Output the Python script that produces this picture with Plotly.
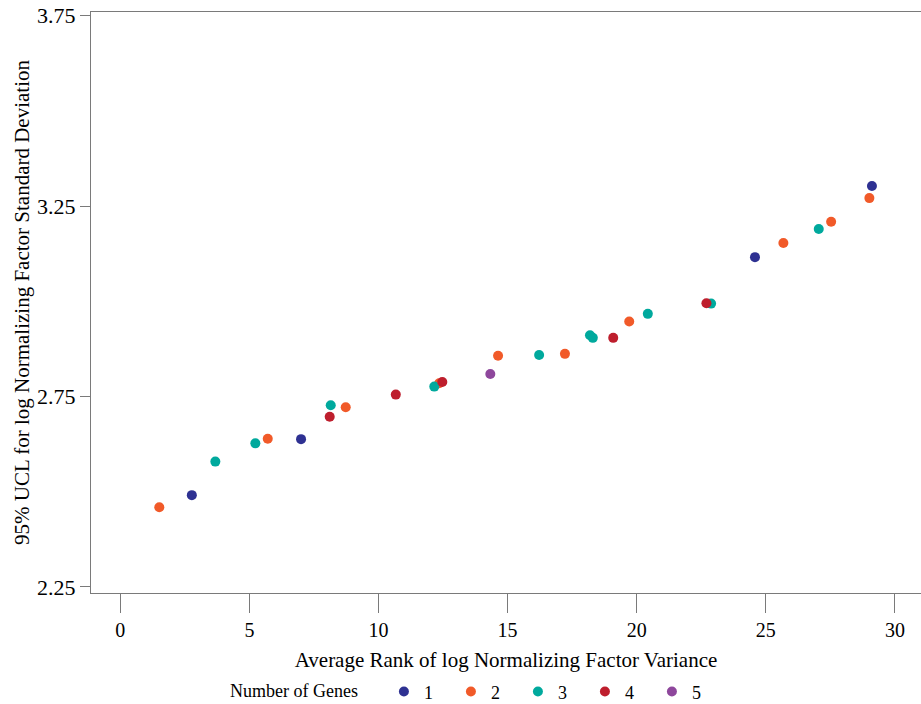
import plotly.graph_objects as go

# ---- data ----
series_names = ["1", "2", "3", "4", "5"]

x_g1 = [2.77, 7.00, 24.58, 29.11]
y_g1 = [2.491, 2.638, 3.116, 3.303]

x_g2 = [1.51, 5.71, 8.73, 12.35, 14.63, 17.22, 19.71, 25.68, 27.53, 29.01]
y_g2 = [2.459, 2.639, 2.722, 2.785, 2.857, 2.862, 2.947, 3.153, 3.209, 3.271]

x_g3 = [3.68, 5.23, 8.15, 12.16, 16.22, 18.19, 18.30, 20.43, 22.88, 27.05]
y_g3 = [2.579, 2.627, 2.727, 2.776, 2.859, 2.911, 2.904, 2.967, 2.994, 3.190]

x_g4 = [8.11, 10.67, 12.47, 19.09, 22.70]
y_g4 = [2.697, 2.755, 2.788, 2.904, 2.995]

x_g5 = [14.33]
y_g5 = [2.809]

x_ticks = [0, 5, 10, 15, 20, 25, 30]
y_ticks = [2.25, 2.75, 3.25, 3.75]
y_tick_labels = ["2.25", "2.75", "3.25", "3.75"]

colors = ["#2e3192", "#f15a29", "#00a99d", "#be1e2d", "#8e479c"]

FONT = "Liberation Serif, Times New Roman, serif"

fig = go.Figure()
for name, xs, ys, c in zip(series_names,
                           [x_g1, x_g2, x_g3, x_g4, x_g5],
                           [y_g1, y_g2, y_g3, y_g4, y_g5],
                           colors):
    fig.add_trace(go.Scatter(
        x=xs, y=ys, mode="markers", name=name,
        marker=dict(color=c, size=10, line=dict(width=0)),
    ))

axis_col = "#7a7a7a"
fig.update_layout(
    width=921, height=704,
    margin=dict(l=91, r=0, t=12, b=111, autoexpand=False),
    paper_bgcolor="white", plot_bgcolor="white",
    font=dict(family=FONT, size=18, color="#000000"),
    showlegend=True,
    legend=dict(
        orientation="h",
        title=dict(text="Number of Genes\u00a0\u00a0\u00a0\u00a0",
                   font=dict(family=FONT, size=18)),
        font=dict(family=FONT, size=18),
        x=0.165, xanchor="left",
        y=-0.17, yanchor="middle",
        itemwidth=30,
        entrywidth=22,
        bgcolor="rgba(0,0,0,0)",
    ),
    xaxis=dict(
        range=[-1.135, 31.01],
        automargin=False,
        tickmode="array", tickvals=x_ticks,
        ticks="outside", ticklen=19, tickcolor=axis_col, tickwidth=1,
        showline=True, linecolor=axis_col, linewidth=1, mirror=True,
        showgrid=False, zeroline=False,
        tickfont=dict(family=FONT, size=20),
        title=dict(text="Average Rank of log Normalizing Factor Variance",
                   font=dict(family=FONT, size=21), standoff=12),
    ),
    yaxis=dict(
        range=[2.234, 3.7597],
        automargin=False,
        tickmode="array", tickvals=y_ticks, ticktext=y_tick_labels,
        ticks="outside", ticklen=10, tickcolor=axis_col, tickwidth=1,
        showline=True, linecolor=axis_col, linewidth=1, mirror=False,
        showgrid=False, zeroline=False,
        tickfont=dict(family=FONT, size=22),
        title=dict(text="95% UCL for log Normalizing Factor Standard Deviation",
                   font=dict(family=FONT, size=21), standoff=1),
    ),
)

fig.write_html(
    "out.html",
    config={"displayModeBar": False},
    post_script="document.body.style.margin='0';document.body.style.overflow='hidden';",
)
